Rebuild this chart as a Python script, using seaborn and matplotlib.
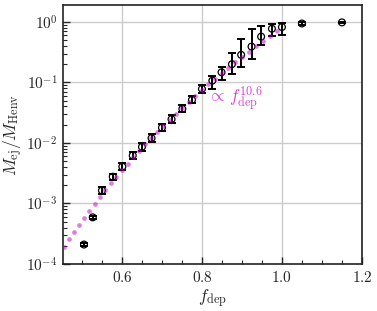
import numpy as np
import pandas as pd
import matplotlib
matplotlib.use("Agg")
import matplotlib.pyplot as plt
import seaborn as sns
from matplotlib.ticker import FixedLocator, FuncFormatter, MultipleLocator, LogLocator

# ---- data ----
f_dep = [0.505, 0.527, 0.55, 0.577, 0.601, 0.627, 0.65, 0.674, 0.70, 0.724, 0.751, 0.775,
         0.80, 0.826, 0.849, 0.875, 0.898, 0.924, 0.948, 0.975, 1.0, 1.05, 1.15]
m_ratio = [2.1e-4, 5.9e-4, 1.64e-3, 2.77e-3, 4.06e-3, 6.2e-3, 8.6e-3, 0.012, 0.0179, 0.0247,
           0.0365, 0.0514, 0.078, 0.107, 0.147, 0.20, 0.285, 0.39, 0.57, 0.77, 0.82, 0.94, 0.98]
m_low = [2.0e-4, 5.6e-4, 1.45e-3, 2.45e-3, 3.55e-3, 5.4e-3, 7.5e-3, 0.0105, 0.0156, 0.0215,
         0.032, 0.045, 0.068, 0.078, 0.110, 0.138, 0.182, 0.245, 0.417, 0.594, 0.61, 0.90, 0.96]
m_high = [2.2e-4, 6.3e-4, 1.85e-3, 3.1e-3, 4.6e-3, 7.1e-3, 9.8e-3, 0.0138, 0.0205, 0.0285,
          0.042, 0.059, 0.090, 0.128, 0.182, 0.304, 0.524, 0.757, 0.87, 0.92, 0.95, 0.98, 1.0]

fit_amp = 0.8
fit_exp = 10.6
fit_range = [0.45, 1.0]

x_ticks = [0.6, 0.8, 1.0, 1.2]
y_ticks = [1e-4, 1e-3, 1e-2, 1e-1, 1e0]

df = pd.DataFrame({"f": f_dep, "m": m_ratio, "lo": m_low, "hi": m_high})

sns.set_style("ticks")
plt.rcParams["font.family"] = ["DejaVu Serif"]
plt.rcParams["mathtext.fontset"] = "cm"

fig = plt.figure(figsize=(3.77, 3.11), dpi=100)
ax = fig.add_axes([0.167, 0.151, 0.793, 0.833])

ax.set_yscale("log")
ax.set_xlim(0.4525, 1.2)
ax.set_ylim(1e-4, 1.9)

ax.errorbar(df["f"], df["m"], yerr=[df["m"] - df["lo"], df["hi"] - df["m"]],
            fmt="none", ecolor="black", elinewidth=1.4, capsize=2.8, capthick=1.4, zorder=3)
sns.scatterplot(data=df, x="f", y="m", ax=ax, marker="o", s=24, facecolor="none",
                edgecolor="black", linewidth=0.9, zorder=4)

# dotted power-law fit: dots evenly spaced along the drawn curve
fine_f = np.linspace(fit_range[0], fit_range[1], 2000)
fine_m = fit_amp * fine_f ** fit_exp
disp = ax.transData.transform(np.column_stack([fine_f, fine_m]))
arc = np.concatenate([[0], np.cumsum(np.hypot(np.diff(disp[:, 0]), np.diff(disp[:, 1])))])
dot_s = np.arange(4.5, arc[-1], 8.7)
dot_f = np.interp(dot_s, arc, fine_f)
dot_m = fit_amp * dot_f ** fit_exp
ax.plot(dot_f, dot_m, linestyle="none", marker="o", markersize=3.4, markeredgewidth=0,
        color="m", alpha=0.5, zorder=6)

ax.text(0.813, 0.046, r"$\propto\, f_{\rm dep}^{10.6}$", color="#d444d4", fontsize=12.5,
        va="baseline", ha="left", zorder=7)

ax.xaxis.set_major_locator(FixedLocator(x_ticks))
ax.xaxis.set_minor_locator(MultipleLocator(0.05))
ax.xaxis.set_major_formatter(FuncFormatter(lambda v, p: f"${v:.1f}$"))
ax.yaxis.set_major_locator(FixedLocator(y_ticks))
ax.yaxis.set_minor_locator(LogLocator(base=10, subs=np.arange(2, 10), numticks=20))
ax.yaxis.set_major_formatter(FuncFormatter(lambda v, p: f"$10^{{{int(round(np.log10(v)))}}}$"))

ax.tick_params(which="both", direction="in", labelsize=11, pad=4)
ax.tick_params(which="major", length=5, width=1)
ax.tick_params(which="minor", length=3, width=0.8)
ax.grid(True, which="major", color="#cccccc", linewidth=1.0)
for s in ax.spines.values():
    s.set_linewidth(1.2)
    s.set_color("#222222")

ax.set_xlabel(r"$f_{\rm dep}$", fontsize=12.5, labelpad=2)
ax.set_ylabel(r"$M_{\rm ej}/M_{\rm Henv}$", fontsize=12.5, labelpad=1)
if ax.get_legend():
    ax.get_legend().remove()

fig.savefig("out.png", dpi=100)
